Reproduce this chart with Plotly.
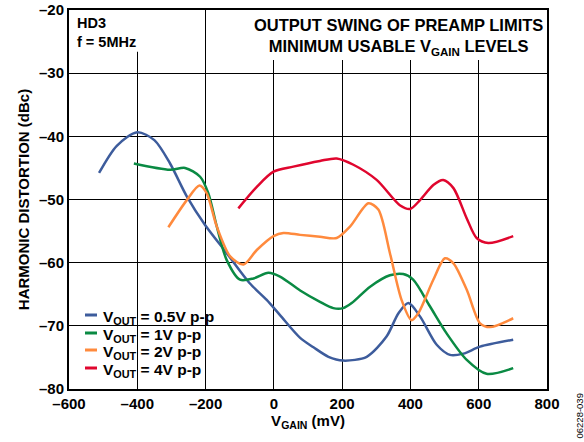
import plotly.graph_objects as go

# data (mV, dBc)
x_05 = [-512, -460, -400, -350, -304, -255, -202, -138, -70, -21, 18, 77, 116, 160, 203, 272, 330, 365, 394, 428, 477, 516, 555, 604, 701]
y_05 = [-45.8, -41.5, -39.35, -40.6, -44.3, -49.5, -54.0, -58.5, -63.3, -65.9, -68.3, -71.9, -73.4, -74.9, -75.5, -74.9, -71.7, -68.0, -66.4, -68.5, -73.0, -74.6, -74.4, -73.3, -72.2]

x_1 = [-410, -304, -260, -216, -192, -167, -138, -99, -60, -16, 18, 77, 135, 174, 203, 228, 282, 340, 379, 408, 457, 506, 565, 623, 701]
y_1 = [-44.3, -45.3, -45.0, -46.4, -49.0, -54.3, -59.6, -62.7, -62.5, -61.6, -62.2, -64.4, -66.2, -67.2, -67.2, -66.4, -63.8, -62.0, -61.8, -62.7, -66.9, -71.2, -75.4, -77.6, -76.7]

x_2 = [-309, -255, -218, -197, -167, -128, -89, -50, -1, 28, 77, 135, 184, 223, 277, 306, 340, 374, 403, 423, 467, 501, 526, 565, 604, 633, 701]
y_2 = [-54.4, -50.1, -47.8, -49.0, -54.3, -59.0, -60.3, -58.0, -55.8, -55.3, -55.6, -55.9, -56.1, -54.3, -50.6, -51.6, -58.5, -65.9, -69.1, -68.0, -62.7, -59.3, -60.1, -64.3, -69.6, -70.2, -68.8]

x_4 = [-104, -50, -1, 57, 135, 184, 233, 301, 369, 399, 428, 467, 496, 526, 565, 594, 628, 701]
y_4 = [-51.4, -48.0, -45.6, -44.8, -43.9, -43.5, -44.5, -46.9, -50.9, -51.5, -50.1, -47.7, -46.9, -48.2, -53.0, -56.1, -56.9, -55.8]

x_ticks = [-600, -400, -200, 0, 200, 400, 600, 800]
y_ticks = [-20, -30, -40, -50, -60, -70, -80]

series = [
    ("V<sub>OUT</sub> = 0.5V p-p", x_05, y_05, "#3d5c9c"),
    ("V<sub>OUT</sub> = 1V p-p", x_1, y_1, "#0a8a43"),
    ("V<sub>OUT</sub> = 2V p-p", x_2, y_2, "#ff8a3d"),
    ("V<sub>OUT</sub> = 4V p-p", x_4, y_4, "#e0062e"),
]

font_fam = "Liberation Sans, Arial, sans-serif"
W, H = 584, 442
ML, MR, MT, MB = 69, 37, 10, 53
pw, ph = W - ML - MR, H - MT - MB


def px_to_paper(px, py):
    return (px - ML) / pw, (H - MB - py) / ph


fig = go.Figure()
for name, xs, ys, col in series:
    fig.add_trace(go.Scatter(x=xs, y=ys, name=name, mode="lines", showlegend=False,
                             line=dict(color=col, width=2.5, shape="spline", smoothing=0.8)))

fig.update_layout(
    width=W, height=H,
    margin=dict(l=ML, r=MR, t=MT, b=MB),
    plot_bgcolor="white", paper_bgcolor="white",
    font=dict(family=font_fam, size=15, color="black", weight="bold"),
    showlegend=False,
)

fig.update_xaxes(range=[-600, 800], tickvals=x_ticks,
                 ticktext=[str(v).replace("-", "\u2013") for v in x_ticks],
                 showgrid=True, gridcolor="black", gridwidth=1.2,
                 showline=True, linecolor="black", linewidth=2, mirror=True,
                 zeroline=False, ticks="", automargin=False,
                 tickfont=dict(size=15, weight="bold"),
                 title=dict(text="V<sub>GAIN</sub> (mV)", standoff=4,
                            font=dict(size=15, weight="bold")))
fig.update_yaxes(range=[-80, -20], tickvals=y_ticks,
                 ticktext=[str(v).replace("-", "\u2013") for v in y_ticks],
                 showgrid=True, gridcolor="black", gridwidth=1.2,
                 showline=True, linecolor="black", linewidth=2, mirror=True,
                 zeroline=False, ticks="", automargin=False,
                 tickfont=dict(size=15, weight="bold"),
                 title=dict(text="HARMONIC DISTORTION (dBc)", standoff=6,
                            font=dict(size=15, weight="bold")))

# white boxes hiding the grid behind the in-plot notes
fig.add_shape(type="rect", x0=-600, x1=-350, y0=-26.6, y1=-20, xref="x", yref="y",
              fillcolor="white", line_width=0, layer="between")
fig.add_shape(type="rect", x0=-60, x1=800, y0=-27.9, y1=-20, xref="x", yref="y",
              fillcolor="white", line_width=0, layer="between")

fig.add_annotation(x=-582, y=-20.5, xref="x", yref="y", xanchor="left", yanchor="top",
                   text="HD3<br>f = 5MHz", showarrow=False, align="left",
                   font=dict(size=14.5, weight="bold"))
fig.add_annotation(x=365, y=-20.6, xref="x", yref="y", xanchor="center", yanchor="top",
                   text="OUTPUT SWING OF PREAMP LIMITS<br>MINIMUM USABLE V<sub>GAIN</sub> LEVELS",
                   showarrow=False, align="center",
                   font=dict(size=16.5, weight="bold"))

# legend box in the lower left corner
bx0, by0 = px_to_paper(83, 383)
bx1, by1 = px_to_paper(227, 302)
fig.add_shape(type="rect", x0=bx0, x1=bx1, y0=by0, y1=by1, xref="paper", yref="paper",
              fillcolor="white", line_width=0, layer="between")
legend_rows = [315, 333, 350, 368]
for (name, _, _, col), ry in zip(series, legend_rows):
    lx0, ly = px_to_paper(85, ry)
    lx1, _ = px_to_paper(97, ry)
    fig.add_shape(type="line", x0=lx0, x1=lx1, y0=ly, y1=ly, xref="paper", yref="paper",
                  line=dict(color=col, width=3), layer="above")
    tx, ty = px_to_paper(101, ry + 2)
    fig.add_annotation(x=tx, y=ty, xref="paper", yref="paper", xanchor="left", yanchor="middle",
                       text=name, showarrow=False, font=dict(size=15.5, weight="bold"))

sx, sy = px_to_paper(579, 441)
fig.add_annotation(x=sx, y=sy, xref="paper", yref="paper", xanchor="center", yanchor="bottom",
                   text="06228-039", textangle=-90, showarrow=False,
                   font=dict(size=9.5, weight="normal"))

fig.write_html("out.html", config={"displayModeBar": False},
               post_script="document.body.style.margin='0';")
